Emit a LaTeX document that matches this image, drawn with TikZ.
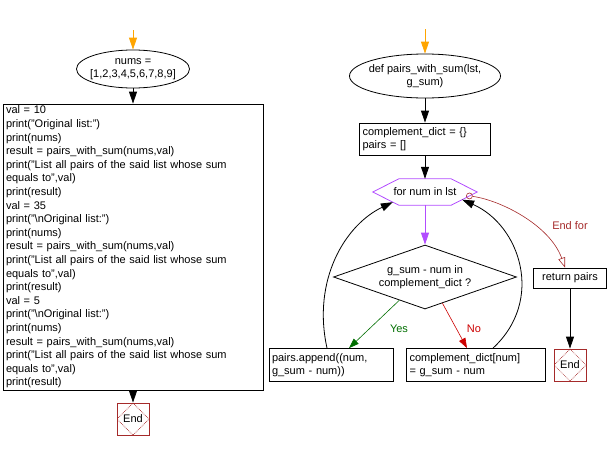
\documentclass[tikz,border=0pt]{standalone}
\usepackage{fontspec}
\setmainfont{Liberation Sans}
\usetikzlibrary{shapes.geometric,arrows.meta,calc}
\definecolor{endred}{RGB}{165,42,42}
\definecolor{forpurple}{RGB}{178,76,255}
\definecolor{startorange}{RGB}{255,165,0}
\definecolor{yesgreen}{RGB}{0,110,0}
\definecolor{nored}{RGB}{204,0,0}
\tikzset{
 every node/.style={font=\fontsize{11}{13}\selectfont},
 procbox/.style={draw=black,line width=0.8pt,align=left,inner sep=3pt},
 startell/.style={shape=ellipse,draw=black,line width=0.8pt,align=center,inner xsep=-6pt,inner ysep=-1pt},
 endbox/.style={draw=endred,line width=0.8pt,minimum size=32,inner sep=0pt,
  path picture={\draw[endred,densely dotted,line width=0.7pt] (path picture bounding box.north) -- (path picture bounding box.east) -- (path picture bounding box.south) -- (path picture bounding box.west) -- cycle;}},
 arr/.style={line width=0.8pt,-{Triangle[length=12pt,width=8pt]}},
 thinarr/.style={line width=0.6pt,-{Triangle[length=10pt,width=7pt]}}
}
\begin{document}
\begin{tikzpicture}[x=1pt,y=-1pt]
 \useasboundingbox (0,0) rectangle (609,450);
 % main program
 \coordinate (main top) at (133,30);
 \node (nums) at (133,69) [startell,minimum width=113,minimum height=38] {nums =\\{[}1,2,3,4,5,6,7,8,9{]}};
 \node (code) at (133,247) [procbox,inner ysep=1pt,text width=254,minimum height=286,font=\fontsize{11}{13.6}\selectfont] {val = 10\\print("Original list:")\\print(nums)\\result = pairs\_with\_sum(nums,val)\\print("List all pairs of the said list whose sum\\equals to",val)\\print(result)\\val = 35\\print("\textbackslash nOriginal list:")\\print(nums)\\result = pairs\_with\_sum(nums,val)\\print("List all pairs of the said list whose sum\\equals to",val)\\print(result)\\val = 5\\print("\textbackslash nOriginal list:")\\print(nums)\\result = pairs\_with\_sum(nums,val)\\print("List all pairs of the said list whose sum\\equals to",val)\\print(result)};
 \node (end main) at (133,419) [endbox] {End};
 \draw[arr,startorange] (main top) -- (nums);
 \draw[arr] (nums) -- (code);
 \draw[arr] (code) -- (end main);
 % function
 \coordinate (fn top) at (425,29);
 \node (def) at (425,76) [startell,minimum width=151,minimum height=44] {def pairs\_with\_sum(lst,\\g\_sum)};
 \node (init) at (425,139) [procbox,minimum width=131,minimum height=32,text width=125] {complement\_dict = \{\}\\pairs = {[]}};
 \node (for) at (425,192) [minimum width=104,minimum height=26,inner sep=0pt] {for num in lst};
 \coordinate (for sw) at ($(for.south west)+(26,0)$);
 \coordinate (for se) at ($(for.south east)+(-26,0)$);
 \draw[forpurple,line width=0.8pt] (for.west) -- ($(for.north west)+(26,0)$) -- ($(for.north east)+(-26,0)$) -- (for.east) -- (for se) -- (for sw) -- cycle;
 \node (test) at (425,277) [shape=diamond,draw=black,line width=0.8pt,aspect=2.86,inner sep=0pt,minimum width=183,minimum height=64,align=center] {g\_sum - num in\\complement\_dict ?};
 \node (pairs) at (331,365) [procbox,minimum width=124,minimum height=33,text width=118] {pairs.append((num,\\g\_sum - num))};
 \node (store) at (476,365) [procbox,minimum width=139,minimum height=33,text width=133] {complement\_dict{[}num{]}\\= g\_sum - num};
 \node (ret) at (570,278) [procbox,minimum width=73,minimum height=20,inner xsep=2pt] {return pairs};
 \node (end fn) at (570,365) [endbox] {End};
 \node (for circ) at ($(for.east)!0.3!(for se)$) [circle,draw=endred,line width=0.6pt,inner sep=0pt,minimum size=6] {};
 \draw[arr,startorange] (fn top) -- (def);
 \draw[arr] (def) -- (init);
 \draw[arr] (init) -- (for);
 \draw[arr,forpurple] (for) -- (test);
 \draw[thinarr,yesgreen] ($(test.west)!0.72!(test.south)$) -- ($(pairs.north)+(18,0)$);
 \draw[thinarr,nored] ($(test.east)!0.81!(test.south)$) -- ($(store.north)+(-9,0)$);
 \node (yes) at (399,329) [text=yesgreen] {Yes};
 \node (no) at (474,329) [text=nored] {No};
 \draw[arr] ($(pairs.north)+(-4,0)$) .. controls (312,280) and (345,225) .. ($(for.west)!0.77!(for sw)$);
 \draw[arr] ($(store.north)+(17,0)$) .. controls (545,300) and (520,225) .. ($(for.east)!0.58!(for se)$);
 \draw[endred,line width=0.6pt,-{Triangle[open,length=10pt,width=7pt]}] (for circ) .. controls (500,200) and (550,225) .. ($(ret.north)+(-5,0)$);
 \node (end for) at (570,226) [text=endred] {End for};
 \draw[arr] (ret) -- (end fn);
\end{tikzpicture}
\end{document}
